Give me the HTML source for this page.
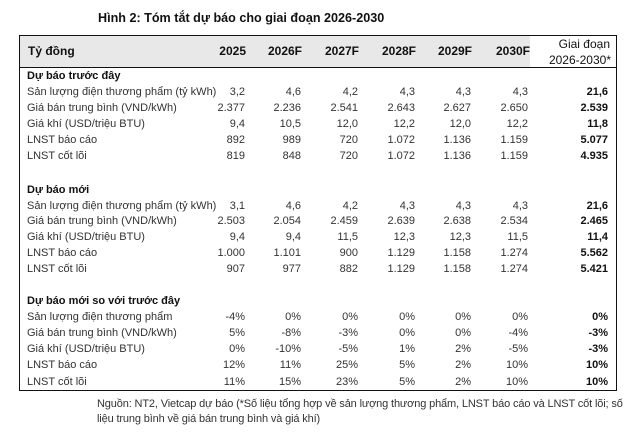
<!DOCTYPE html>
<html>
<head>
<meta charset="utf-8">
<style>
html,body{margin:0;padding:0;background:#fff;}
body{width:633px;height:432px;position:relative;overflow:hidden;font-family:"Liberation Sans","Noto Sans CJK SC",sans-serif;color:#333;}
.title{position:absolute;left:98px;top:10px;font-size:12.6px;font-weight:bold;color:#111;line-height:16px;white-space:nowrap;}
.box{position:absolute;left:19px;top:35px;width:598px;height:356px;border:1px solid #111;box-sizing:border-box;}
.hdr{position:absolute;left:20px;top:36px;width:510px;height:32px;background:#e8e8e8;}
.hline{position:absolute;left:19px;top:67px;width:598px;height:1px;background:#111;}
.h{position:absolute;font-size:12px;font-weight:bold;color:#111;line-height:16px;white-space:nowrap;}
.r{position:absolute;left:0;width:633px;height:16px;line-height:16px;font-size:11px;white-space:nowrap;}
.r span{position:absolute;top:0;text-align:right;width:60px;}
.lab{left:27px;text-align:left!important;width:auto!important;}
.sec{left:27px;font-weight:bold;color:#111;}
.c1{left:185px}.c2{left:241px}.c3{left:298px}.c4{left:355px}.c5{left:411px}.c6{left:468px}
.r span.c7{left:548px;font-weight:bold;color:#111;}
.foot{position:absolute;left:97px;font-size:11px;letter-spacing:-0.14px;line-height:15px;color:#333;white-space:nowrap;}
</style>
</head>
<body>
<div class="title">Hình 2: Tóm tắt dự báo cho giai đoạn 2026-2030</div>
<div class="hdr"></div>
<div class="box"></div>
<div class="hline"></div>

<div class="h" style="left:28px;top:43px;">Tỷ đồng</div>
<div class="h" style="left:186px;top:43px;width:60px;text-align:right;">2025</div>
<div class="h" style="left:242px;top:43px;width:60px;text-align:right;">2026F</div>
<div class="h" style="left:299px;top:43px;width:60px;text-align:right;">2027F</div>
<div class="h" style="left:356px;top:43px;width:60px;text-align:right;">2028F</div>
<div class="h" style="left:412px;top:43px;width:60px;text-align:right;">2029F</div>
<div class="h" style="left:470px;top:43px;width:60px;text-align:right;">2030F</div>
<div class="h" style="left:520px;top:36px;width:90px;text-align:right;font-weight:normal;">Giai đoạn</div>
<div class="h" style="left:520px;top:52px;width:91px;text-align:right;font-weight:normal;">2026-2030*</div>

<div class="r" style="top:68px"><span class="sec" style="width:auto;text-align:left">Dự báo trước đây</span></div>
<div class="r" style="top:84.08px"><span class="lab">Sản lượng điện thương phẩm (tỷ kWh)</span><span class="c1">3,2</span><span class="c2">4,6</span><span class="c3">4,2</span><span class="c4">4,3</span><span class="c5">4,3</span><span class="c6">4,3</span><span class="c7">21,6</span></div>
<div class="r" style="top:100.16px"><span class="lab">Giá bán trung bình (VND/kWh)</span><span class="c1">2.377</span><span class="c2">2.236</span><span class="c3">2.541</span><span class="c4">2.643</span><span class="c5">2.627</span><span class="c6">2.650</span><span class="c7">2.539</span></div>
<div class="r" style="top:116.24px"><span class="lab">Giá khí (USD/triệu BTU)</span><span class="c1">9,4</span><span class="c2">10,5</span><span class="c3">12,0</span><span class="c4">12,2</span><span class="c5">12,0</span><span class="c6">12,2</span><span class="c7">11,8</span></div>
<div class="r" style="top:132.32px"><span class="lab">LNST báo cáo</span><span class="c1">892</span><span class="c2">989</span><span class="c3">720</span><span class="c4">1.072</span><span class="c5">1.136</span><span class="c6">1.159</span><span class="c7">5.077</span></div>
<div class="r" style="top:148.4px"><span class="lab">LNST cốt lõi</span><span class="c1">819</span><span class="c2">848</span><span class="c3">720</span><span class="c4">1.072</span><span class="c5">1.136</span><span class="c6">1.159</span><span class="c7">4.935</span></div>

<div class="r" style="top:181.5px"><span class="sec" style="width:auto;text-align:left">Dự báo mới</span></div>
<div class="r" style="top:197.5px"><span class="lab">Sản lượng điện thương phẩm (tỷ kWh)</span><span class="c1">3,1</span><span class="c2">4,6</span><span class="c3">4,2</span><span class="c4">4,3</span><span class="c5">4,3</span><span class="c6">4,3</span><span class="c7">21,6</span></div>
<div class="r" style="top:213.3px"><span class="lab">Giá bán trung bình (VND/kWh)</span><span class="c1">2.503</span><span class="c2">2.054</span><span class="c3">2.459</span><span class="c4">2.639</span><span class="c5">2.638</span><span class="c6">2.534</span><span class="c7">2.465</span></div>
<div class="r" style="top:229.2px"><span class="lab">Giá khí (USD/triệu BTU)</span><span class="c1">9,4</span><span class="c2">9,4</span><span class="c3">11,5</span><span class="c4">12,3</span><span class="c5">12,3</span><span class="c6">11,5</span><span class="c7">11,4</span></div>
<div class="r" style="top:245.1px"><span class="lab">LNST báo cáo</span><span class="c1">1.000</span><span class="c2">1.101</span><span class="c3">900</span><span class="c4">1.129</span><span class="c5">1.158</span><span class="c6">1.274</span><span class="c7">5.562</span></div>
<div class="r" style="top:261px"><span class="lab">LNST cốt lõi</span><span class="c1">907</span><span class="c2">977</span><span class="c3">882</span><span class="c4">1.129</span><span class="c5">1.158</span><span class="c6">1.274</span><span class="c7">5.421</span></div>

<div class="r" style="top:293.12px"><span class="sec" style="width:auto;text-align:left">Dự báo mới so với trước đây</span></div>
<div class="r" style="top:309.2px"><span class="lab">Sản lượng điện thương phẩm</span><span class="c1">-4%</span><span class="c2">0%</span><span class="c3">0%</span><span class="c4">0%</span><span class="c5">0%</span><span class="c6">0%</span><span class="c7">0%</span></div>
<div class="r" style="top:325.28px"><span class="lab">Giá bán trung bình (VND/kWh)</span><span class="c1">5%</span><span class="c2">-8%</span><span class="c3">-3%</span><span class="c4">0%</span><span class="c5">0%</span><span class="c6">-4%</span><span class="c7">-3%</span></div>
<div class="r" style="top:341.36px"><span class="lab">Giá khí (USD/triệu BTU)</span><span class="c1">0%</span><span class="c2">-10%</span><span class="c3">-5%</span><span class="c4">1%</span><span class="c5">2%</span><span class="c6">-5%</span><span class="c7">-3%</span></div>
<div class="r" style="top:357.44px"><span class="lab">LNST báo cáo</span><span class="c1">12%</span><span class="c2">11%</span><span class="c3">25%</span><span class="c4">5%</span><span class="c5">2%</span><span class="c6">10%</span><span class="c7">10%</span></div>
<div class="r" style="top:373.52px"><span class="lab">LNST cốt lõi</span><span class="c1">11%</span><span class="c2">15%</span><span class="c3">23%</span><span class="c4">5%</span><span class="c5">2%</span><span class="c6">10%</span><span class="c7">10%</span></div>

<div class="foot" style="top:397px;">Nguồn: NT2, Vietcap dự báo (*Số liệu tổng hợp về sản lượng thương phẩm, LNST báo cáo và LNST cốt lõi; số</div>
<div class="foot" style="top:412px;">liệu trung bình về giá bán trung bình và giá khí)</div>
</body>
</html>
